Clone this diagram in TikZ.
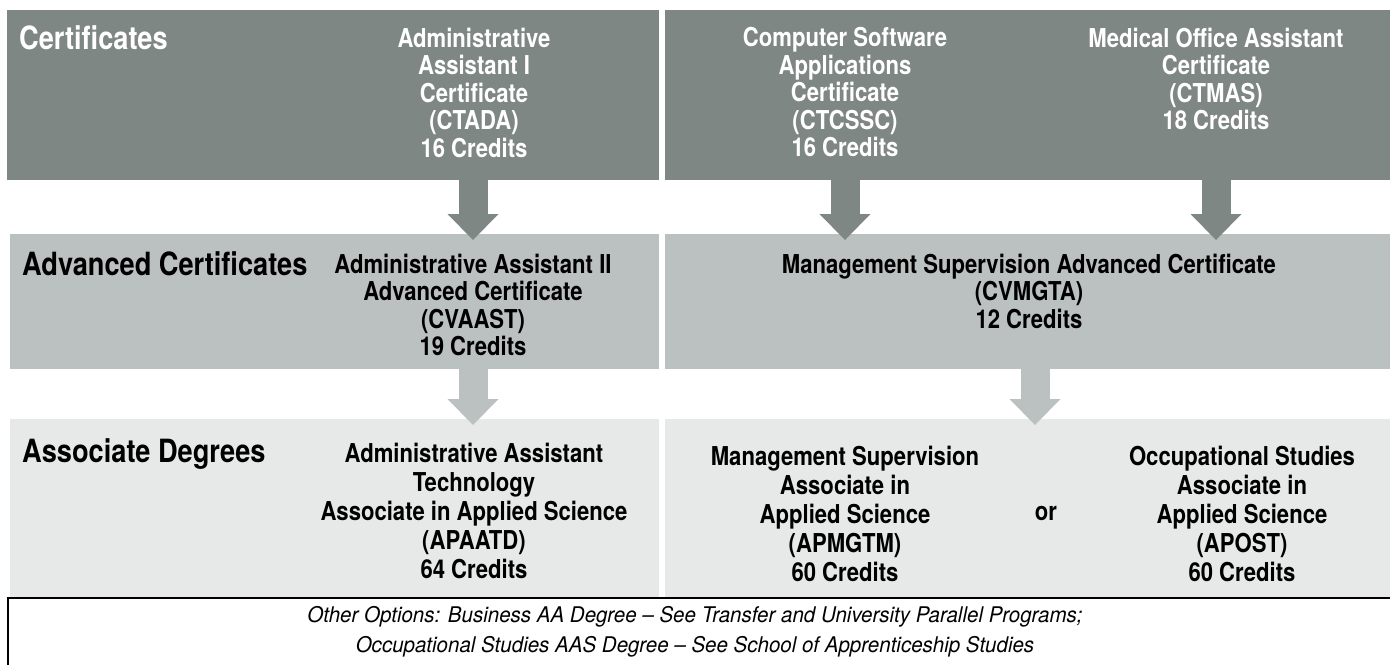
\documentclass[tikz,border=0pt]{standalone}
\usepackage{fontspec}
\setmainfont{TeX Gyre Heros}[FakeStretch=0.85]
\newfontfamily\notefont{TeX Gyre Heros}[FakeStretch=0.95]
\usetikzlibrary{arrows.meta}
\definecolor{certgray}{HTML}{7F8784}
\definecolor{advgray}{HTML}{BBC1C0}
\definecolor{assocgray}{HTML}{E7E9E8}
\tikzstyle{band}=[rectangle,draw=none,inner sep=0pt,anchor=north west]
\tikzstyle{hd}=[anchor=base west,inner sep=0pt,font=\fontsize{32}{34}\selectfont\bfseries]
\tikzstyle{prog}=[anchor=north,inner sep=0pt,align=center,font=\fontsize{26}{27.5}\selectfont\bfseries]
\tikzstyle{deg}=[anchor=north,inner sep=0pt,align=center,font=\fontsize{26}{29}\selectfont\bfseries]
\tikzstyle{note}=[inner sep=0pt,align=center,font=\notefont\fontsize{21.6}{30}\selectfont\itshape]
\tikzstyle{flow}=[line width=29pt,-{Triangle[length=26pt,width=51pt,line width=0pt]},shorten >=-6pt]

\begin{document}
\begin{tikzpicture}[x=1pt,y=-1pt]
\useasboundingbox (0,0) rectangle (1390,665);
\node[band,fill=certgray,minimum width=652pt,minimum height=170pt] (certL) at (7,10) {};
\node[band,fill=certgray,minimum width=725pt,minimum height=170pt] (certR) at (665,10) {};
\node[band,fill=advgray,minimum width=649pt,minimum height=135pt] (advL) at (10,234) {};
\node[band,fill=advgray,minimum width=725pt,minimum height=135pt] (advR) at (665,234) {};
\node[band,fill=assocgray,minimum width=649pt,minimum height=178pt] (assocL) at (10,419) {};
\node[band,fill=assocgray,minimum width=725pt,minimum height=178pt] (assocR) at (665,419) {};
\draw[line width=1.3pt] (8,665) -- (8,598) -- (1390,598);

\node[hd,white] (hcert) at (19,49) {Certificates};
\node[hd] (hadv) at (22,275) {Advanced Certificates};
\node[hd] (hassoc) at (22,462) {Associate Degrees};

\node[prog,white] (ctada) at (474,27.5) {Administrative\\Assistant I\\Certificate\\(CTADA)\\16 Credits};
\node[prog,white] (ctcssc) at (845,27.5) {Computer Software\\Applications\\Certificate\\(CTCSSC)\\16 Credits};
\node[prog,white] (ctmas) at (1216,27.5) {Medical Office Assistant\\Certificate\\(CTMAS)\\18 Credits};
\node[prog] (cvaast) at (473,253.5) {Administrative Assistant II\\Advanced Certificate\\(CVAAST)\\19 Credits};
\node[prog] (cvmgta) at (1029,253.5) {Management Supervision Advanced Certificate\\(CVMGTA)\\12 Credits};
\node[deg] (apaatd) at (474,442.5) {Administrative Assistant\\Technology\\Associate in Applied Science\\(APAATD)\\64 Credits};
\node[deg] (apmgtm) at (845,445.5) {Management Supervision\\Associate in\\Applied Science\\(APMGTM)\\60 Credits};
\node[deg] (apost) at (1242,445.5) {Occupational Studies\\Associate in\\Applied Science\\(APOST)\\60 Credits};
\node[prog,anchor=center] (or) at (1046,513) {or};
\node[note] (other) at (695,632) {Other Options: Business AA Degree – See Transfer and University Parallel Programs;\\Occupational Studies AAS Degree – See School of Apprenticeship Studies};

\coordinate (mgtarr) at (1035,369);
\draw[flow,certgray] (certL.south -| cvaast.north) -- (advL.north -| cvaast.north);
\draw[flow,certgray] (certR.south -| ctcssc.north) -- (advR.north -| ctcssc.north);
\draw[flow,certgray] (certR.south -| ctmas.north) -- (advR.north -| ctmas.north);
\draw[flow,advgray] (advL.south -| cvaast.north) -- (assocL.north -| cvaast.north);
\draw[flow,advgray] (mgtarr) -- (mgtarr |- assocR.north);
\end{tikzpicture}
\end{document}
